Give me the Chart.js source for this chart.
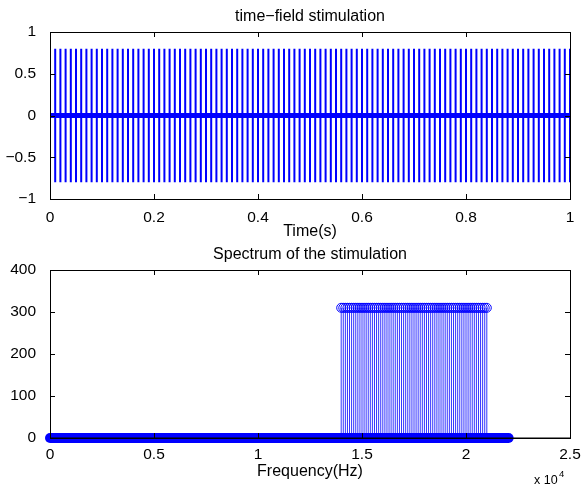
<!DOCTYPE html>
<html><head><meta charset="utf-8">
<script src="https://cdn.jsdelivr.net/npm/chart.js@4.4.1/dist/chart.umd.min.js"></script>
<style>
html,body{margin:0;padding:0;background:#fff;}
#wrap{position:relative;width:585px;height:490px;overflow:hidden;background:#fff;}
canvas{position:absolute;left:0;}
#c1{top:0;} #c2{top:240px;}
</style></head><body>
<div id="wrap"><canvas id="c1" width="585" height="240"></canvas><canvas id="c2" width="585" height="250"></canvas></div>
<script>
// ---------- data ----------
const timeTitle = 'time\u2212field stimulation';
const timeLabel = 'Time(s)';
const spectrumTitle = 'Spectrum of the stimulation';
const freqLabel = 'Frequency(Hz)';
const freqExponentBase = 'x 10';
const freqExponent = '4';

const timeTicks = [0, 0.2, 0.4, 0.6, 0.8, 1];
const timeTickLabels = ['0', '0.2', '0.4', '0.6', '0.8', '1'];
const ampTicks = [-1, -0.5, 0, 0.5, 1];
const ampTickLabels = ['\u22121', '\u22120.5', '0', '0.5', '1'];
const freqTicks = [0, 5000, 10000, 15000, 20000, 25000];
const freqTickLabels = ['0', '0.5', '1', '1.5', '2', '2.5'];
const magTicks = [0, 100, 200, 300, 400];
const magTickLabels = ['0', '100', '200', '300', '400'];

// pulse instants (s) and pulse extremes
const spikeTimes = [
  0.01,0.02,0.03,0.04,0.05,0.06,0.07,0.08,0.09,0.10,
  0.11,0.12,0.13,0.14,0.15,0.16,0.17,0.18,0.19,0.20,
  0.21,0.22,0.23,0.24,0.25,0.26,0.27,0.28,0.29,0.30,
  0.31,0.32,0.33,0.34,0.35,0.36,0.37,0.38,0.39,0.40,
  0.41,0.42,0.43,0.44,0.45,0.46,0.47,0.48,0.49,0.50,
  0.51,0.52,0.53,0.54,0.55,0.56,0.57,0.58,0.59,0.60,
  0.61,0.62,0.63,0.64,0.65,0.66,0.67,0.68,0.69,0.70,
  0.71,0.72,0.73,0.74,0.75,0.76,0.77,0.78,0.79,0.80,
  0.81,0.82,0.83,0.84,0.85,0.86,0.87,0.88,0.89,0.90,
  0.91,0.92,0.93,0.94,0.95,0.96,0.97,0.98,0.99,1.00
];
const spikePeak = 0.8;
const spikeTrough = -0.8;
const signalSpan = [0, 1];

// spectrum: non-zero lines (Hz) and their magnitudes
const stemFreqs = [
  14000,14100,14200,14300,14400,14500,14600,14700,14800,14900,
  15000,15100,15200,15300,15400,15500,15600,15700,15800,15900,
  16000,16100,16200,16300,16400,16500,16600,16700,16800,16900,
  17000,17100,17200,17300,17400,17500,17600,17700,17800,17900,
  18000,18100,18200,18300,18400,18500,18600,18700,18800,18900,
  19000,19100,19200,19300,19400,19500,19600,19700,19800,19900,
  20000,20100,20200,20300,20400,20500,20600,20700,20800,20900,
  21000
];
const stemMags = [
  310,310,310,310,310,310,310,310,310,310,
  310,310,310,310,310,310,310,310,310,310,
  310,310,310,310,310,310,310,310,310,310,
  310,310,310,310,310,310,310,310,310,310,
  310,310,310,310,310,310,310,310,310,310,
  310,310,310,310,310,310,310,310,310,310,
  310,310,310,310,310,310,310,310,310,310,
  310
];
const zeroSpan = [0, 22050];     // range of the zero-valued bins
const baselineSpan = [0, 25000];

// ---------- build library datasets ----------
const spikeTrace = [];
spikeTimes.forEach(t => {
  spikeTrace.push({x: t, y: 0}, {x: t, y: spikePeak}, {x: t, y: spikeTrough}, {x: t, y: 0});
});
const stemTrace = [];
stemFreqs.forEach((f, i) => {
  stemTrace.push({x: f, y: 0}, {x: f, y: stemMags[i]}, {x: f, y: null});
});
const stemHeads = stemFreqs.map((f, i) => ({x: f, y: stemMags[i]}));

const FONT = '"Liberation Sans", Arial, Helvetica, sans-serif';
Chart.defaults.font.family = FONT;
Chart.defaults.font.size = 15.5;
Chart.defaults.color = '#000';
const BLUE = '#0000ff';

const axesBox = {
  id: 'axesBox',
  afterDatasetsDraw(chart) {
    const {ctx, chartArea: {left, right, top, bottom}, scales: {x, y}} = chart;
    const L = 5;
    ctx.save();
    ctx.strokeStyle = '#000';
    ctx.lineWidth = 1;
    ctx.beginPath();
    x.ticks.forEach(t => {
      const px = Math.round(x.getPixelForValue(t.value)) + 0.5;
      ctx.moveTo(px, bottom); ctx.lineTo(px, bottom - L);
      ctx.moveTo(px, top); ctx.lineTo(px, top + L);
    });
    y.ticks.forEach(t => {
      const py = Math.round(y.getPixelForValue(t.value)) + 0.5;
      ctx.moveTo(left, py); ctx.lineTo(left + L, py);
      ctx.moveTo(right, py); ctx.lineTo(right - L, py);
    });
    ctx.stroke();
    ctx.strokeRect(left + 0.5, top + 0.5, right - left, bottom - top);
    ctx.restore();
  }
};

const exponentLabel = {
  id: 'exponentLabel',
  afterDraw(chart) {
    const {ctx} = chart;
    ctx.save();
    ctx.fillStyle = '#000';
    ctx.textAlign = 'left';
    ctx.textBaseline = 'alphabetic';
    ctx.font = '12.5px ' + FONT;
    ctx.fillText(freqExponentBase, 534, 244);
    ctx.font = '9.5px ' + FONT;
    ctx.fillText(freqExponent, 559, 237);
    ctx.restore();
  }
};

function fixedTicks(values) {
  return scale => { scale.ticks = values.map(v => ({value: v})); };
}

function axisOpts(min, max, ticks, labels, pad, extra) {
  return Object.assign({
    type: 'linear', min, max,
    grid: {display: false},
    border: {display: false},
    afterBuildTicks: fixedTicks(ticks),
    ticks: {callback: (v, i) => labels[i], maxRotation: 0, autoSkip: false, padding: pad, font: {size: 15.5}}
  }, extra);
}

new Chart(document.getElementById('c1'), {
  type: 'scatter',
  data: {datasets: [
    {data: spikeTrace, showLine: true, borderColor: BLUE, borderWidth: 2, pointRadius: 0, order: 1},
    {data: [{x: signalSpan[0], y: 0}, {x: signalSpan[1], y: 0}], showLine: true, borderColor: BLUE, borderWidth: 5, pointRadius: 0, order: 2}
  ]},
  options: {
    responsive: false, animation: false, devicePixelRatio: 1,
    layout: {padding: {left: 0, right: 15, top: 0, bottom: 0}},
    plugins: {
      legend: {display: false}, tooltip: {enabled: false},
      title: {display: true, fullSize: false, text: timeTitle, color: '#000', font: {size: 16, weight: 'normal', lineHeight: 1.2}, padding: {top: 6.5, bottom: 6.3}}
    },
    scales: {
      x: axisOpts(0, 1, timeTicks, timeTickLabels, 1, {
        afterFit: s => { s.height = 41; },
        title: {display: true, text: timeLabel, font: {size: 16, lineHeight: 1}, padding: {top: 0, bottom: 0}}
      }),
      y: axisOpts(-1, 1, ampTicks, ampTickLabels, 6, {afterFit: s => { s.width = 50; }})
    }
  },
  plugins: [axesBox]
});

new Chart(document.getElementById('c2'), {
  type: 'scatter',
  data: {datasets: [
    {data: [{x: baselineSpan[0], y: 0}, {x: baselineSpan[1], y: 0}], showLine: true, borderColor: '#000', borderWidth: 1, pointRadius: 0, clip: false, order: 0},
    {data: stemHeads, showLine: false, pointRadius: 4.5, pointBorderWidth: 1, borderColor: BLUE, pointBorderColor: BLUE, backgroundColor: 'rgba(0,0,0,0)', pointBackgroundColor: 'rgba(0,0,0,0)', clip: false, order: 1},
    {data: stemTrace, showLine: true, spanGaps: false, borderColor: BLUE, borderWidth: 0.8, pointRadius: 0, order: 2},
    {data: [{x: zeroSpan[0], y: 0}, {x: zeroSpan[1], y: 0}], showLine: true, borderColor: BLUE, borderWidth: 10, borderCapStyle: 'round', pointRadius: 0, clip: false, order: 3}
  ]},
  options: {
    responsive: false, animation: false, devicePixelRatio: 1,
    layout: {padding: {left: 0, right: 15, top: 0, bottom: 0}},
    plugins: {
      legend: {display: false}, tooltip: {enabled: false},
      title: {display: true, fullSize: false, text: spectrumTitle, color: '#000', font: {size: 16, weight: 'normal', lineHeight: 1.2}, padding: {top: 5, bottom: 5.8}}
    },
    scales: {
      x: axisOpts(0, 25000, freqTicks, freqTickLabels, -1, {
        afterFit: s => { s.height = 52; },
        title: {display: true, text: freqLabel, font: {size: 16, lineHeight: 1}, padding: {top: 0, bottom: 10}}
      }),
      y: axisOpts(0, 400, magTicks, magTickLabels, 6, {afterFit: s => { s.width = 50; }})
    }
  },
  plugins: [axesBox, exponentLabel]
});
</script>
</body></html>
